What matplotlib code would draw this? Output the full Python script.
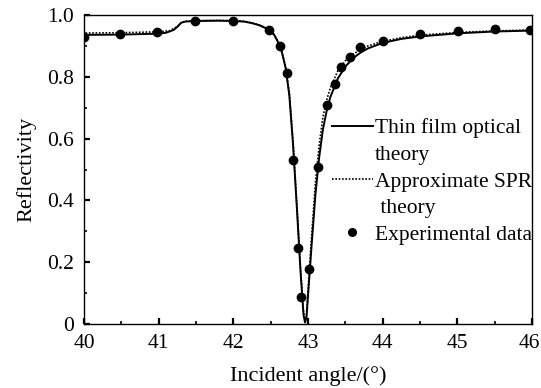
import matplotlib
matplotlib.use("Agg")
import matplotlib.pyplot as plt
import matplotlib.transforms as mtransforms
from matplotlib.lines import Line2D
from matplotlib.ticker import MultipleLocator

plt.rcParams['font.family'] = ['Liberation Serif', 'DejaVu Serif']
plt.rcParams['mathtext.fontset'] = 'stix'

# Thin film optical theory (solid)
thin_x = [40.0, 40.5, 41.0, 41.1, 41.2, 41.25, 41.3, 41.35, 41.5, 41.8, 42.0, 42.15,
          42.25, 42.35, 42.45, 42.5, 42.55, 42.6, 42.65, 42.7, 42.75, 42.8, 42.85,
          42.9, 42.94, 42.96, 42.98, 43.0, 43.05, 43.1, 43.15, 43.2, 43.25, 43.3,
          43.4, 43.5, 43.6, 43.7, 43.8, 44.0, 44.25, 44.5, 45.0, 45.5, 46.0]
thin_y = [0.936, 0.937, 0.940, 0.943, 0.952, 0.962, 0.975, 0.979, 0.981, 0.982, 0.981, 0.979,
          0.974, 0.967, 0.956, 0.948, 0.935, 0.912, 0.880, 0.830, 0.740, 0.580, 0.380,
          0.170, 0.030, 0.005, 0.020, 0.090, 0.260, 0.420, 0.540, 0.630, 0.690, 0.735,
          0.795, 0.833, 0.860, 0.878, 0.892, 0.910, 0.923, 0.931, 0.941, 0.947, 0.950]

# Approximate SPR theory (dotted)
spr_x = [40.0, 40.02, 40.5, 41.0, 41.15, 41.25, 41.3, 41.35, 41.5, 41.8, 42.0, 42.15,
         42.25, 42.35, 42.45, 42.5, 42.55, 42.6, 42.65, 42.7, 42.75, 42.8, 42.85,
         42.9, 42.94, 42.96, 42.98, 43.0, 43.05, 43.1, 43.15, 43.2, 43.25, 43.3,
         43.4, 43.5, 43.6, 43.7, 43.8, 44.0, 44.25, 44.5, 45.0, 45.5, 46.0]
spr_y = [0.910, 0.942, 0.943, 0.946, 0.950, 0.963, 0.975, 0.980, 0.982, 0.983, 0.982, 0.980,
         0.975, 0.968, 0.957, 0.949, 0.936, 0.913, 0.882, 0.832, 0.750, 0.590, 0.390,
         0.180, 0.040, 0.010, 0.030, 0.110, 0.290, 0.460, 0.580, 0.670, 0.725, 0.765,
         0.820, 0.852, 0.873, 0.888, 0.900, 0.915, 0.927, 0.935, 0.944, 0.949, 0.952]

# Experimental data (dots)
exp_x = [40.0, 40.48, 40.98, 41.49, 42.0, 42.48, 42.62, 42.72, 42.80, 42.87, 42.91,
         43.02, 43.13, 43.25, 43.36, 43.44, 43.56, 43.69, 44.01, 44.5, 45.01, 45.5, 45.97]
exp_y = [0.930, 0.938, 0.946, 0.981, 0.981, 0.951, 0.900, 0.812, 0.532, 0.246, 0.087,
         0.178, 0.507, 0.708, 0.776, 0.833, 0.865, 0.897, 0.917, 0.938, 0.949, 0.955, 0.953]

x_ticks = [40, 41, 42, 43, 44, 45, 46]
y_ticks = [0, 0.2, 0.4, 0.6, 0.8, 1.0]
y_tick_labels = ['0', '0.2', '0.4', '0.6', '0.8', '1.0']

fig = plt.figure(figsize=(5.41, 3.88), dpi=100)
ax = fig.add_axes([0.1553, 0.165, 0.828, 0.796])

ax.plot(thin_x, thin_y, color='black', lw=1.4, solid_joinstyle='round')
ax.plot(spr_x, spr_y, color='black', lw=1.2, linestyle=(0, (1, 1)))
ax.plot(exp_x, exp_y, 'o', color='black', markersize=6)

ax.set_xlim(40, 46)
ax.set_ylim(0, 1.0)
ax.set_xticks(x_ticks)
ax.set_xticklabels([str(t) for t in x_ticks])
ax.set_yticks(y_ticks)
ax.set_yticklabels(y_tick_labels)
ax.xaxis.set_minor_locator(MultipleLocator(0.5))
ax.yaxis.set_minor_locator(MultipleLocator(0.1))
ax.tick_params(which='major', direction='in', length=4, width=1.6, labelsize=15.5,
               top=False, right=False)
ax.tick_params(axis='x', which='major', pad=7)
ax.tick_params(axis='y', which='major', pad=7)
ax.tick_params(which='minor', direction='in', length=2.5, width=1.2,
               top=False, right=False)
for s in ax.spines.values():
    s.set_linewidth(1.0)

# nudge the last x tick label left so it stays inside the figure
last = ax.get_xticklabels()[-1]
last.set_transform(last.get_transform() +
                   mtransforms.ScaledTranslation(-0.03, 0, fig.dpi_scale_trans))

ax.set_xlabel('Incident angle/(°)', fontsize=16, labelpad=10)
ax.set_ylabel('Reflectivity', fontsize=16, labelpad=8)

handles = [Line2D([], [], color='black', lw=1.4),
           Line2D([], [], color='none'),
           Line2D([], [], color='black', lw=1.2, linestyle=(0, (1, 1))),
           Line2D([], [], color='none'),
           Line2D([], [], color='black', marker='o', linestyle='none', markersize=5.5)]
labels = ['Thin film optical', 'theory', 'Approximate SPR', ' theory', 'Experimental data']
leg = ax.legend(handles, labels, loc='upper left', bbox_to_anchor=(0.553, 0.667),
                frameon=False, fontsize=15.5, handlelength=1.9, handletextpad=0.1,
                labelspacing=0.31, borderpad=0, borderaxespad=0)

fig.savefig('out.png', dpi=100)
